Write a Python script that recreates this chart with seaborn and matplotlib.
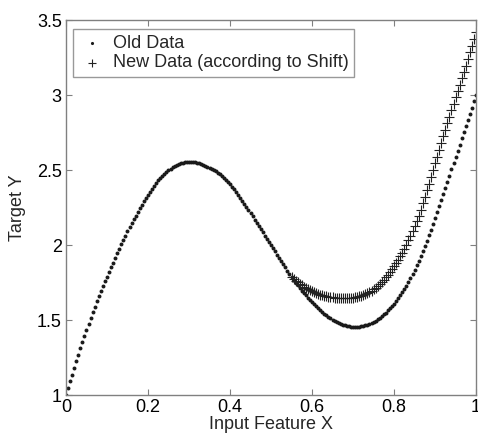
import matplotlib
matplotlib.use("Agg")
import matplotlib.pyplot as plt
import pandas as pd
import seaborn as sns

sns.set_theme(style="ticks")
plt.rcParams['font.family'] = ['Liberation Sans', 'DejaVu Sans']

# ---- data ----
old_x = [
    0.000, 0.005, 0.010, 0.015, 0.020, 0.025, 0.030, 0.035, 0.040, 0.045,
    0.050, 0.055, 0.060, 0.065, 0.070, 0.075, 0.080, 0.085, 0.090, 0.095,
    0.100, 0.105, 0.110, 0.115, 0.120, 0.125, 0.130, 0.135, 0.140, 0.145,
    0.150, 0.155, 0.160, 0.165, 0.170, 0.175, 0.180, 0.185, 0.190, 0.195,
    0.200, 0.205, 0.210, 0.215, 0.220, 0.225, 0.230, 0.235, 0.240, 0.245,
    0.250, 0.255, 0.260, 0.265, 0.270, 0.275, 0.280, 0.285, 0.290, 0.295,
    0.300, 0.305, 0.310, 0.315, 0.320, 0.325, 0.330, 0.335, 0.340, 0.345,
    0.350, 0.355, 0.360, 0.365, 0.370, 0.375, 0.380, 0.385, 0.390, 0.395,
    0.400, 0.405, 0.410, 0.415, 0.420, 0.425, 0.430, 0.435, 0.440, 0.445,
    0.450, 0.455, 0.460, 0.465, 0.470, 0.475, 0.480, 0.485, 0.490, 0.495,
    0.500, 0.505, 0.510, 0.515, 0.520, 0.525, 0.530, 0.535, 0.540, 0.545,
    0.550, 0.555, 0.560, 0.565, 0.570, 0.575, 0.580, 0.585, 0.590, 0.595,
    0.600, 0.605, 0.610, 0.615, 0.620, 0.625, 0.630, 0.635, 0.640, 0.645,
    0.650, 0.655, 0.660, 0.665, 0.670, 0.675, 0.680, 0.685, 0.690, 0.695,
    0.700, 0.705, 0.710, 0.715, 0.720, 0.725, 0.730, 0.735, 0.740, 0.745,
    0.750, 0.755, 0.760, 0.765, 0.770, 0.775, 0.780, 0.785, 0.790, 0.795,
    0.800, 0.805, 0.810, 0.815, 0.820, 0.825, 0.830, 0.835, 0.840, 0.845,
    0.850, 0.855, 0.860, 0.865, 0.870, 0.875, 0.880, 0.885, 0.890, 0.895,
    0.900, 0.905, 0.910, 0.915, 0.920, 0.925, 0.930, 0.935, 0.940, 0.945,
    0.950, 0.955, 0.960, 0.965, 0.970, 0.975, 0.980, 0.985, 0.990, 0.995,
    1.000,
]
old_y = [
    1.000, 1.046, 1.091, 1.136, 1.180, 1.225, 1.269, 1.312, 1.355, 1.396,
    1.436, 1.476, 1.515, 1.552, 1.589, 1.625, 1.660, 1.693, 1.726, 1.758,
    1.790, 1.822, 1.853, 1.884, 1.915, 1.945, 1.975, 2.005, 2.035, 2.063,
    2.091, 2.118, 2.145, 2.171, 2.196, 2.221, 2.245, 2.268, 2.291, 2.313,
    2.335, 2.356, 2.376, 2.396, 2.415, 2.431, 2.447, 2.462, 2.475, 2.487,
    2.499, 2.510, 2.520, 2.527, 2.534, 2.540, 2.545, 2.549, 2.552, 2.554,
    2.555, 2.555, 2.554, 2.552, 2.550, 2.546, 2.541, 2.536, 2.530, 2.523,
    2.516, 2.508, 2.500, 2.491, 2.481, 2.471, 2.460, 2.447, 2.434, 2.420,
    2.405, 2.388, 2.371, 2.353, 2.335, 2.315, 2.295, 2.275, 2.255, 2.234,
    2.213, 2.191, 2.170, 2.149, 2.128, 2.106, 2.085, 2.064, 2.043, 2.021,
    2.000, 1.979, 1.958, 1.936, 1.915, 1.894, 1.873, 1.851, 1.830, 1.809,
    1.789, 1.769, 1.750, 1.732, 1.714, 1.697, 1.680, 1.664, 1.649, 1.634,
    1.620, 1.606, 1.592, 1.578, 1.565, 1.553, 1.542, 1.531, 1.520, 1.511,
    1.503, 1.495, 1.487, 1.480, 1.474, 1.469, 1.465, 1.462, 1.459, 1.457,
    1.455, 1.455, 1.455, 1.456, 1.458, 1.461, 1.465, 1.470, 1.475, 1.482,
    1.489, 1.497, 1.505, 1.515, 1.526, 1.538, 1.550, 1.564, 1.579, 1.594,
    1.610, 1.628, 1.646, 1.665, 1.685, 1.707, 1.730, 1.755, 1.780, 1.807,
    1.835, 1.865, 1.895, 1.928, 1.961, 1.995, 2.030, 2.066, 2.103, 2.141,
    2.180, 2.220, 2.260, 2.300, 2.340, 2.381, 2.422, 2.463, 2.505, 2.546,
    2.587, 2.628, 2.670, 2.711, 2.752, 2.793, 2.835, 2.876, 2.917, 2.958,
    3.000,
]
new_x = [
    0.550, 0.555, 0.560, 0.565, 0.570, 0.575, 0.580, 0.585, 0.590, 0.595,
    0.600, 0.605, 0.610, 0.615, 0.620, 0.625, 0.630, 0.635, 0.640, 0.645,
    0.650, 0.655, 0.660, 0.665, 0.670, 0.675, 0.680, 0.685, 0.690, 0.695,
    0.700, 0.705, 0.710, 0.715, 0.720, 0.725, 0.730, 0.735, 0.740, 0.745,
    0.750, 0.755, 0.760, 0.765, 0.770, 0.775, 0.780, 0.785, 0.790, 0.795,
    0.800, 0.805, 0.810, 0.815, 0.820, 0.825, 0.830, 0.835, 0.840, 0.845,
    0.850, 0.855, 0.860, 0.865, 0.870, 0.875, 0.880, 0.885, 0.890, 0.895,
    0.900, 0.905, 0.910, 0.915, 0.920, 0.925, 0.930, 0.935, 0.940, 0.945,
    0.950, 0.955, 0.960, 0.965, 0.970, 0.975, 0.980, 0.985, 0.990, 0.995,
    1.000,
]
new_y = [
    1.790, 1.776, 1.762, 1.751, 1.741, 1.731, 1.722, 1.714, 1.706, 1.699,
    1.692, 1.686, 1.680, 1.675, 1.670, 1.666, 1.662, 1.658, 1.655, 1.653,
    1.651, 1.649, 1.647, 1.646, 1.646, 1.646, 1.646, 1.647, 1.648, 1.649,
    1.650, 1.653, 1.656, 1.659, 1.662, 1.667, 1.673, 1.679, 1.685, 1.694,
    1.704, 1.714, 1.725, 1.739, 1.754, 1.769, 1.785, 1.803, 1.822, 1.841,
    1.860, 1.882, 1.904, 1.927, 1.950, 1.976, 2.003, 2.031, 2.060, 2.092,
    2.125, 2.160, 2.195, 2.237, 2.279, 2.322, 2.365, 2.410, 2.455, 2.500,
    2.545, 2.590, 2.635, 2.680, 2.725, 2.769, 2.813, 2.857, 2.900, 2.943,
    2.985, 3.028, 3.070, 3.112, 3.155, 3.197, 3.240, 3.285, 3.330, 3.375,
    3.420,
]
x_ticks = [0, 0.2, 0.4, 0.6, 0.8, 1]
x_ticklabels = ["0", "0.2", "0.4", "0.6", "0.8", "1"]
y_ticks = [1, 1.5, 2, 2.5, 3, 3.5]
y_ticklabels = ["1", "1.5", "2", "2.5", "3", "3.5"]

old_df = pd.DataFrame({"x": old_x, "y": old_y})
new_df = pd.DataFrame({"x": new_x, "y": new_y})

# ---- figure ----
fig = plt.figure(figsize=(4.78, 4.38), dpi=100)
ax = fig.add_axes([0.138, 0.098, 0.858, 0.856])

sns.scatterplot(data=old_df, x="x", y="y", marker="o", s=8, color="#1a1a1a",
                linewidth=0, ax=ax, label="Old Data")
sns.scatterplot(data=new_df, x="x", y="y", marker="+", s=45, color="#222222",
                linewidth=0.8, ax=ax, label="New Data (according to Shift)")

ax.set_xlim(0, 1)
ax.set_ylim(1, 3.5)
ax.set_xticks(x_ticks)
ax.set_xticklabels(x_ticklabels)
ax.set_yticks(y_ticks)
ax.set_yticklabels(y_ticklabels)
ax.tick_params(direction="in", length=4, width=0.8, color="#808080",
               labelsize=13, labelcolor="black", top=True, right=True, pad=3)
for sp in ax.spines.values():
    sp.set_visible(True)
    sp.set_color("#808080")
    sp.set_linewidth(1.0)

ax.set_xlabel("Input Feature X", fontsize=13, labelpad=0)
ax.set_ylabel("Target Y", fontsize=13, labelpad=8)

leg = ax.legend(loc="upper left", bbox_to_anchor=(0.017, 0.976),
                borderaxespad=0, frameon=True, fancybox=False, fontsize=13,
                handletextpad=0.4, labelspacing=0.15, borderpad=0.3,
                handlelength=1.5, markerscale=0.8)
leg.get_frame().set_edgecolor("#808080")
leg.get_frame().set_linewidth(1.0)

fig.savefig("out.png", dpi=100)
